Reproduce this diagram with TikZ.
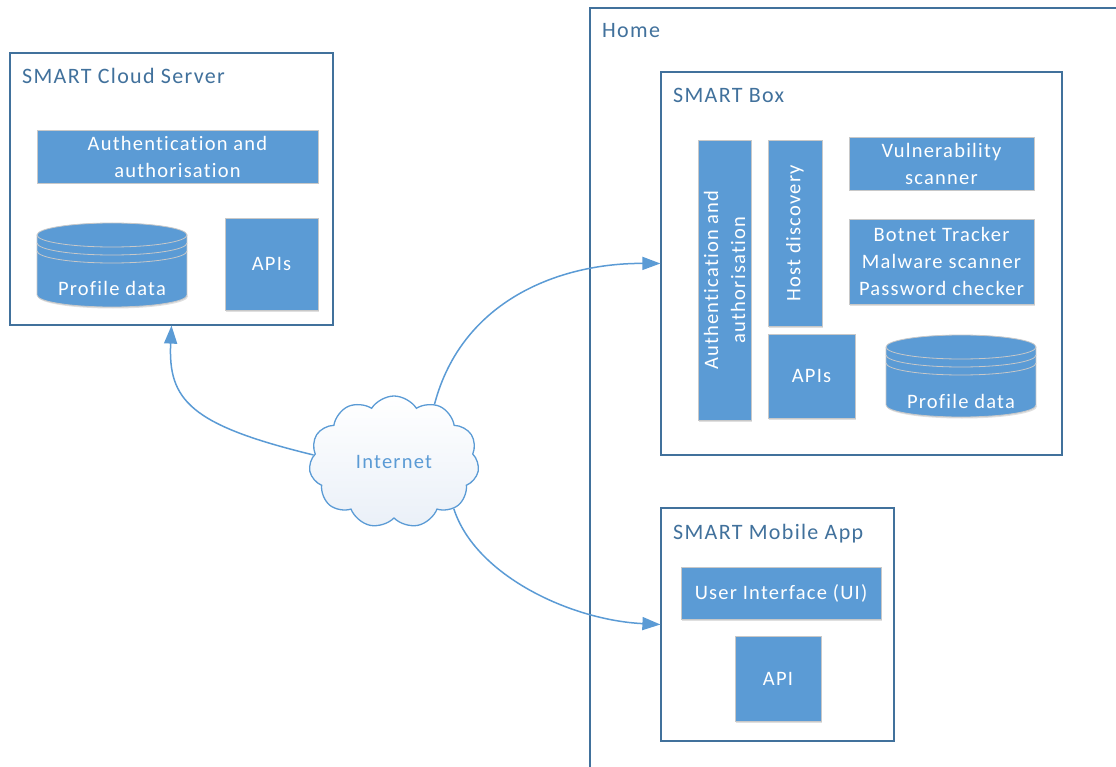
\documentclass[tikz,border=0pt]{standalone}
\usepackage{fontspec}
\setmainfont{Carlito}[LetterSpace=6,Ligatures=NoCommon]
\usetikzlibrary{shapes.symbols,arrows.meta,shadows}
\definecolor{boxfill}{HTML}{5B9BD5}
\definecolor{frameclr}{HTML}{41719C}
\definecolor{titleclr}{HTML}{41719C}
\definecolor{lineclr}{HTML}{5B9BD5}
\definecolor{boxedge}{HTML}{C8C8C8}
\definecolor{cloudbot}{HTML}{EAF0F8}
\newcommand\drawcyl[4]{%
  \pgfmathsetmacro\cylcx{(#1+#2)/2}%
  \pgfmathsetmacro\cylrx{(#2-#1)/2}%
  \fill[boxfill, drop shadow={shadow xshift=1pt,shadow yshift=-1.5pt,opacity=0.25}] (\cylcx,#4-12) ellipse[x radius=\cylrx, y radius=12];
  \fill[boxfill] (#1,#3+12) rectangle (#2,#4-12);
  \draw[boxedge, line width=0.8pt] (#1,#3+12) -- (#1,#4-12) arc[start angle=180,end angle=0,x radius=\cylrx,y radius=12] -- (#2,#3+12);
  \draw[boxedge, line width=0.8pt, fill=boxfill] (\cylcx,#3+12) ellipse[x radius=\cylrx, y radius=12];
  \draw[boxedge, line width=0.8pt] (#1,#3+20) arc[start angle=180,end angle=0,x radius=\cylrx,y radius=12];
  \draw[boxedge, line width=0.8pt] (#1,#3+28) arc[start angle=180,end angle=0,x radius=\cylrx,y radius=12];
}
\begin{document}
\begin{tikzpicture}[x=1pt,y=-1pt,
  frame/.style={draw=frameclr, line width=1.2pt, fill=white, inner sep=0},
  title/.style={anchor=base west, text=titleclr, font=\fontsize{22}{26}\selectfont, inner sep=0},
  bluebox/.style={draw=boxedge, line width=0.8pt, fill=boxfill, text=white,
    font=\fontsize{20.5}{27}\selectfont, align=center, inner sep=0,
    drop shadow={shadow xshift=1pt,shadow yshift=-1.5pt,opacity=0.25}},
  plaintext/.style={text=white, font=\fontsize{20.5}{27}\selectfont, align=center, inner sep=0},
  conn/.style={draw=lineclr, line width=1.5pt, -{Triangle[length=18pt,width=13pt]}}]
\useasboundingbox (0,0) rectangle (1116,767);

% Home frame
\node[frame, minimum width=560, minimum height=820] (home) at (870,418) {};
\node[title] (homet) at (602,38) {Home};

% SMART Cloud Server
\node[frame, minimum width=323, minimum height=272] (cs) at (171.5,189) {};
\node[title] (cst) at (22,84) {SMART Cloud Server};
\node[bluebox, minimum width=281, minimum height=53] (csauth) at (177.5,156.5) {Authentication and\\authorisation};
\node[bluebox, minimum width=93, minimum height=92] (csapi) at (271.5,264) {APIs};
\drawcyl{37}{187}{223}{307}
\node[plaintext] (csdata) at (112,288) {Profile data};

% SMART Box
\node[frame, minimum width=401, minimum height=383] (sb) at (861.5,263.5) {};
\node[title] (sbt) at (673,103) {SMART Box};
\node[bluebox, minimum width=53, minimum height=280] (sbauth) at (724.5,280) {};
\node[plaintext, rotate=90] (sbautht) at (sbauth.center) {Authentication and\\authorisation};
\node[bluebox, minimum width=54, minimum height=186] (sbhost) at (795,233) {};
\node[plaintext, rotate=90] (sbhostt) at (sbhost.center) {Host discovery};
\node[bluebox, minimum width=185, minimum height=53] (sbvuln) at (941.5,163.5) {Vulnerability\\scanner};
\node[bluebox, minimum width=185, minimum height=85] (sbbot) at (941.5,261.5) {Botnet Tracker\\Malware scanner\\Password checker};
\node[bluebox, minimum width=87, minimum height=84] (sbapi) at (811.5,376) {APIs};
\drawcyl{886}{1036}{335}{417}
\node[plaintext] (sbdata) at (961,401) {Profile data};

% SMART Mobile App
\node[frame, minimum width=233, minimum height=233] (app) at (777.5,624.5) {};
\node[title] (appt) at (673,539) {SMART Mobile App};
\node[bluebox, minimum width=200, minimum height=52] (appui) at (781,593) {User Interface (UI)};
\node[bluebox, minimum width=86, minimum height=85] (appapi) at (778,678.5) {API};

% Internet cloud
\node[cloud, cloud puffs=11, cloud puff arc=115, aspect=1.3, draw=lineclr, line width=1.3pt,
  top color=white, bottom color=cloudbot, minimum width=170, minimum height=132,
  text=lineclr, font=\fontsize{20.5}{24}\selectfont, inner sep=0] (net) at (394,462) {Internet};

% connectors
\draw[conn] (net.175) .. controls (190,425) and (168,400) .. (cs.south);
\draw[conn] (net.55) .. controls (462,300) and (560,263) .. (sb.west);
\draw[conn] (net.-38) .. controls (475,575) and (570,620) .. (app.west);
\end{tikzpicture}
\end{document}
